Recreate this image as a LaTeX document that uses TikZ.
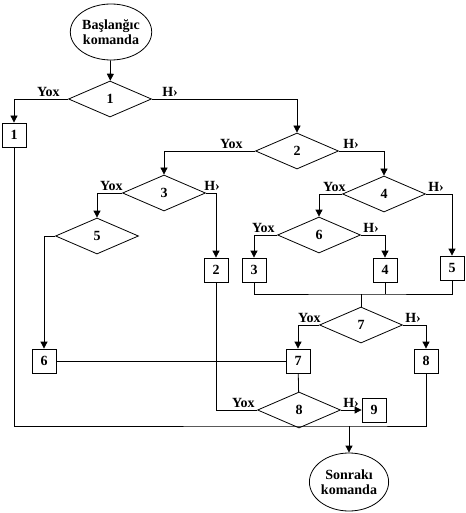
\documentclass[tikz,border=0pt]{standalone}
\usepackage{fontspec}
\setmainfont{Liberation Serif}
\usepackage{tikz}
\usetikzlibrary{calc}
\usetikzlibrary{positioning}
\usetikzlibrary{shapes.geometric}
\usetikzlibrary{arrows.meta}

\begin{document}
\begin{tikzpicture}[x=1pt,y=-1pt,line width=0.8pt,
  font=\fontsize{14}{15}\selectfont\bfseries,
  cond/.style={draw,diamond,inner sep=0pt,minimum width=83pt,minimum height=36pt},
  blok/.style={draw,rectangle,inner sep=0pt,minimum width=24pt,minimum height=24pt},
  term/.style={draw,ellipse,inner sep=0pt,align=center},
  arr/.style={-{Triangle[length=7pt,width=7pt]}},
  lbl/.style={inner sep=2pt}]
\useasboundingbox (0,0) rectangle (465,513);
% terminals
\node[term,minimum width=77pt,minimum height=56pt](st) at (111,32){Başlanğıc\\komanda};
\node[term,minimum width=78pt,minimum height=58pt](en) at (349,482){Sonrakı\\komanda};
% conditions
\node[cond](d1) at (110,99){1};
\node[cond](d2) at (297,151){2};
\node[cond](d3) at (164,193){3};
\node[cond](d4) at (384,194){4};
\node[cond](d5) at (97,236){5};
\node[cond](d6) at (319,235){6};
\node[cond](d7) at (361,325){7};
\node[cond](d8) at (299,410){8};
% blocks
\node[blok](b1) at (14,135){1};
\node[blok](b2) at (216,270){2};
\node[blok](b3) at (254,270){3};
\node[blok](b4) at (385,270){4};
\node[blok](b5) at (452,268){5};
\node[blok](b6) at (44,361){6};
\node[blok](b7) at (298,361){7};
\node[blok](b8) at (426,361){8};
\node[blok](b9) at (374,410){9};
\coordinate (mg) at (361,294);
\coordinate (bt) at (349,426);

\draw[arr] (st) -- (d1);
\draw[arr] (d1.west) -| node[lbl,pos=0,above left,xshift=-6pt]{Yox} (b1);
\draw[arr] (d1.east) -| node[lbl,pos=0,above right,xshift=8pt]{H›} (d2);
\draw[arr] (d2.west) -| node[lbl,pos=0,above left,xshift=-10pt]{Yox} (d3);
\draw[arr] (d2.east) -| node[lbl,pos=0,above right,xshift=2pt]{H›} (d4);
\draw[arr] (d3.west) -| node[lbl,pos=0,above left,xshift=3pt]{Yox} (d5);
\draw[arr] (d3.east) -| node[lbl,pos=0,above right,xshift=-4pt]{H›} (b2);
\draw[arr] (d4.west) -| node[lbl,pos=0,above left,xshift=6pt]{Yox} (d6);
\draw[arr] (d4.east) -| node[lbl,pos=0,above right]{H›} (b5);
\draw[arr] (d6.west) -| node[lbl,pos=0,above left]{Yox} (b3);
\draw[arr] (d6.east) -| node[lbl,pos=0,above right]{H›} (b4);
\draw[arr] (d5.west) -| (b6);
\draw[arr] (d7.west) -| node[lbl,pos=0,above left,xshift=4pt]{Yox} (b7);
\draw[arr] (d7.east) -| node[lbl,pos=0,above right]{H›} (b8);
\draw[arr] (d8.east) -- node[lbl,pos=0,above right]{H›} (b9);
% merges
\draw (b3.south) |- (mg) -| (b5.south);
\draw (b4.south) -- (b4.south |- mg);
\draw (mg) -- (d7.north);
\draw (b6) -- (b7);
\draw (b7) -- (d8);
\draw (b2.south) |- node[lbl,pos=1,above left]{Yox} (d8.west);
\draw (b1.south) |- (bt) -| (b8.south);
\draw[arr] (bt) -- (en);
\end{tikzpicture}
\end{document}
